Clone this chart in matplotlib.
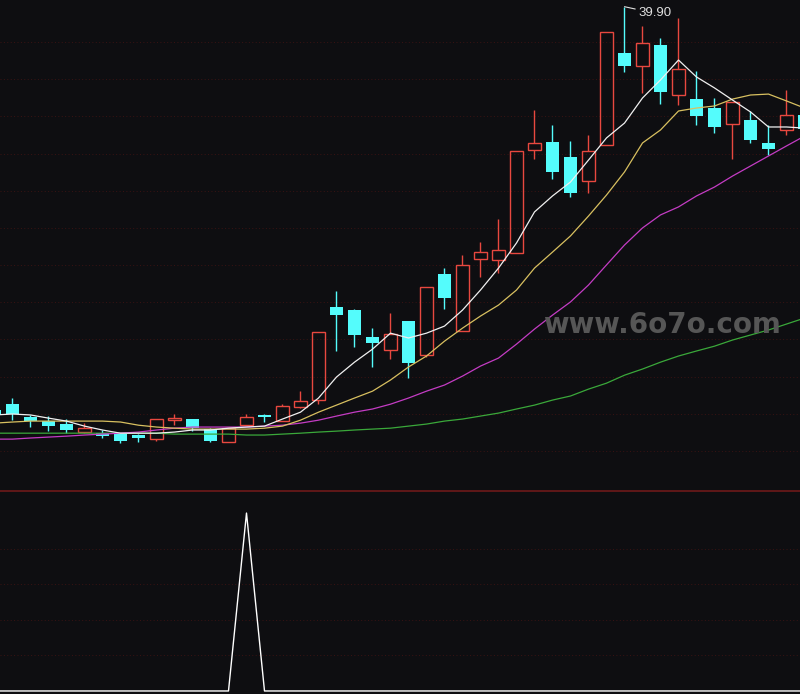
import numpy as np
import matplotlib.pyplot as plt

# daily candles (price units)
opens = [18.20, 18.52, 17.83, 17.61, 17.45, 17.02, 16.96, 16.96, 16.86, 16.64,
         17.66, 17.72, 17.18, 16.48, 17.39, 17.94, 17.61, 18.36, 18.74, 23.74,
         23.58, 22.13, 21.43, 22.99, 21.16, 25.52, 22.46, 26.33, 26.27, 26.65,
         32.19, 32.62, 31.82, 30.52, 32.46, 37.41, 36.71, 37.84, 35.15, 34.93,
         34.45, 33.59, 33.80, 32.57, 33.27, 34.07]
highs = [18.31, 18.85, 17.94, 17.88, 17.72, 17.50, 17.13, 16.96, 16.91, 17.72,
         17.99, 17.72, 17.23, 17.23, 17.99, 17.99, 18.52, 19.22, 22.40, 24.60,
         23.64, 22.61, 23.42, 22.99, 24.82, 25.84, 26.54, 27.24, 28.48, 32.14,
         34.34, 33.54, 32.68, 33.00, 38.54, 39.90, 38.86, 38.22, 39.29, 36.44,
         34.99, 34.77, 34.29, 33.54, 35.42, 34.34]
lows = [17.83, 17.66, 17.29, 17.07, 16.96, 16.96, 16.70, 16.43, 16.48, 16.53,
        17.39, 17.07, 16.48, 16.48, 17.39, 17.56, 17.61, 18.31, 18.52, 21.38,
        21.59, 20.52, 20.95, 19.92, 21.05, 23.64, 22.46, 25.36, 25.58, 26.65,
        31.71, 30.63, 29.66, 29.88, 32.46, 36.39, 35.26, 34.67, 34.61, 33.54,
        33.11, 31.71, 32.57, 31.92, 33.00, 33.16]
closes = [17.94, 17.99, 17.61, 17.34, 17.13, 17.23, 16.80, 16.53, 16.70, 17.72,
          17.77, 17.23, 16.53, 17.23, 17.83, 17.83, 18.42, 18.69, 22.40, 23.31,
          22.24, 21.81, 22.29, 20.73, 24.82, 24.23, 26.01, 26.70, 26.81, 32.14,
          32.57, 31.01, 29.88, 32.14, 38.54, 36.71, 37.95, 35.31, 36.55, 34.02,
          33.43, 34.77, 32.73, 32.25, 34.07, 33.32]
up = [False, False, False, False, False, True, False, False, False, True,
      True, False, False, True, True, False, True, True, True, False,
      False, False, True, False, True, False, True, True, True, True,
      True, False, False, True, True, False, True, False, True, False,
      False, True, False, False, True, False]

# moving averages
ma5 = [17.94, 17.99, 17.94, 17.77, 17.61, 17.34, 17.13, 16.96, 16.96, 16.96,
       17.02, 17.13, 17.13, 17.23, 17.29, 17.34, 17.72, 18.09, 18.85, 19.98,
       20.78, 21.48, 22.34, 22.08, 22.34, 22.72, 23.58, 24.66, 25.84, 27.19,
       28.86, 29.72, 30.47, 31.65, 32.84, 33.64, 34.99, 35.96, 37.03, 36.12,
       35.53, 34.88, 34.24, 33.43, 33.43, 33.37]
ma10 = [17.50, 17.56, 17.61, 17.61, 17.61, 17.61, 17.61, 17.56, 17.39, 17.29,
        17.23, 17.18, 17.18, 17.18, 17.18, 17.23, 17.34, 17.66, 18.09, 18.47,
        18.85, 19.22, 19.82, 20.52, 21.11, 21.91, 22.61, 23.26, 23.85, 24.66,
        25.84, 26.70, 27.57, 28.64, 29.77, 31.01, 32.57, 33.27, 34.29, 34.45,
        34.56, 34.93, 35.15, 35.20, 34.83, 34.45]
ma20 = [16.64, 16.64, 16.70, 16.75, 16.80, 16.86, 16.91, 16.96, 17.02, 17.13,
        17.23, 17.29, 17.29, 17.29, 17.29, 17.34, 17.39, 17.50, 17.66, 17.88,
        18.09, 18.26, 18.52, 18.85, 19.22, 19.55, 20.03, 20.57, 21.00, 21.75,
        22.56, 23.31, 24.02, 24.93, 26.01, 27.08, 28.00, 28.70, 29.13, 29.72,
        30.20, 30.79, 31.33, 31.87, 32.41, 32.94]
ma60 = [16.96, 16.96, 16.96, 16.96, 16.96, 16.96, 16.96, 16.96, 16.96, 16.96,
        16.91, 16.91, 16.91, 16.91, 16.86, 16.86, 16.91, 16.96, 17.02, 17.07,
        17.13, 17.18, 17.23, 17.34, 17.45, 17.61, 17.72, 17.88, 18.04, 18.26,
        18.47, 18.74, 18.96, 19.33, 19.65, 20.08, 20.41, 20.78, 21.11, 21.38,
        21.64, 21.97, 22.24, 22.51, 22.83, 23.15]

# lower indicator
signal = [0, 0, 0, 0, 0, 0, 0, 0, 0, 0, 0, 0, 0, 0, 1, 0, 0, 0, 0, 0, 0, 0, 0,
          0, 0, 0, 0, 0, 0, 0, 0, 0, 0, 0, 0, 0, 0, 0, 0, 0, 0, 0, 0, 0, 0, 0]

grid_prices = [16, 18, 20, 22, 24, 26, 28, 30, 32, 34, 36, 38]
grid_signal = [0.2, 0.4, 0.6, 0.8]

bg = '#0e0e11'
red = '#e8483f'
cyan = '#54fcfc'
grid_c = '#3a1313'

fig = plt.figure(figsize=(8, 6.94), dpi=100, facecolor=bg)
ax = fig.add_axes([0, 203 / 694, 1, 491 / 694], facecolor=bg)
ax2 = fig.add_axes([0, 0, 1, 203 / 694], facecolor=bg)

x = np.arange(len(opens))
o, h, l, c = map(np.array, (opens, highs, lows, closes))
up = np.array(up)
w = 0.72

for yv in grid_prices:
    ax.axhline(yv, color=grid_c, lw=0.7, ls=(0, (1, 2.5)), zorder=0)

# candles
top = np.maximum(o, c)
bot = np.minimum(o, c)
hgt = np.maximum(top - bot, 0.06)
dn = ~up
ax.vlines(x[dn], l[dn], h[dn], color=cyan, lw=1, zorder=2)
ax.bar(x[dn], hgt[dn], w, bot[dn], color=cyan, zorder=3)
ax.vlines(x[up], top[up], h[up], color=red, lw=1, zorder=2)
ax.vlines(x[up], l[up], bot[up], color=red, lw=1, zorder=2)
ax.bar(x[up], hgt[up], w, bot[up], facecolor='none', edgecolor=red, lw=1, zorder=3)

ax.plot(x, ma60, color='#3aa83a', lw=0.9, zorder=4)
ax.plot(x, ma20, color='#c43cc4', lw=0.9, zorder=4)
ax.plot(x, ma10, color='#d8c060', lw=0.9, zorder=4)
ax.plot(x, ma5, color='#f0f0f0', lw=0.9, zorder=5)

imax = int(np.argmax(h))
ax.annotate(f'{h[imax]:.2f}', xy=(x[imax], h[imax]), xytext=(x[imax] + 0.75, h[imax] - 0.35),
            color='#e0e0e0', fontsize=9.5, family='Liberation Sans', va='center', ha='left',
            arrowprops=dict(arrowstyle='-', color='#e0e0e0', lw=0.8, shrinkA=0, shrinkB=0))

ax.set_xlim(0.306, 44.75)
ax.set_ylim(13.85, 40.26)
ax.axis('off')

fig.text(662 / 800, 1 - 325 / 694, 'www.6o7o.com', color='#565656', fontsize=20,
         fontweight='bold', ha='center', va='center')

# lower panel
for yv in grid_signal:
    ax2.axhline(yv, color=grid_c, lw=0.7, ls=(0, (1, 2.5)), zorder=0)
ax2.plot(x, signal, color='white', lw=1.0)
ax2.set_xlim(0.306, 44.75)
ax2.set_ylim(-0.017, 1.124)
for s in ax2.spines.values():
    s.set_visible(False)
ax2.spines['top'].set_visible(True)
ax2.spines['top'].set_color('#6e1a1a')
ax2.spines['top'].set_linewidth(1.2)
ax2.set_xticks([])
ax2.set_yticks([])

fig.savefig('out.png', dpi=100, facecolor=bg)
